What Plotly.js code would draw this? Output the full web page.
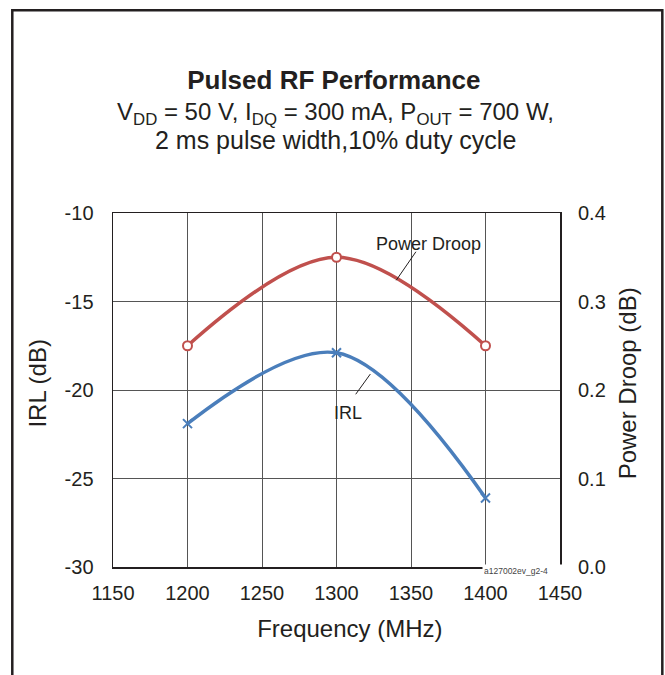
<!DOCTYPE html>
<html>
<head>
<meta charset="utf-8">
<script src="https://cdn.plot.ly/plotly-3.0.1.min.js"></script>
<style>
  html, body { margin: 0; padding: 0; background: #fff; }
  #chart { width: 665px; height: 675px; }
</style>
</head>
<body>
<div id="chart"></div>
<script>
// ---- data ----
const frequency = [1200, 1300, 1400];           // MHz
const irl = [-21.9, -17.9, -26.1];              // dB (left axis)
const powerDroop = [0.25, 0.35, 0.25];          // dB (right axis)

const xTicks = [1150, 1200, 1250, 1300, 1350, 1400, 1450];
const yTicks = [-30, -25, -20, -15, -10];
const y2Ticks = [0.0, 0.1, 0.2, 0.3, 0.4];

const titleText = "Pulsed RF Performance";
const subtitle1 = "V<sub>DD</sub> = 50 V, I<sub>DQ</sub> = 300 mA, P<sub>OUT</sub> = 700 W,";
const subtitle2 = "2 ms pulse width,10% duty cycle";
const xTitle = "Frequency (MHz)";
const yTitle = "IRL (dB)";
const y2Title = "Power Droop (dB)";
const watermark = "a127002ev_g2-4";

const FONT = "Liberation Sans, Arial, sans-serif";
const INK = "#231f20";
const RED = "#c0504d";
const BLUE = "#4a7ebb";
const PAD2 = "&nbsp;&nbsp;";
const PAD4 = "&nbsp;&nbsp;&nbsp;&nbsp;";

const traces = [
  {
    x: frequency, y: powerDroop, yaxis: "y2", name: "Power Droop",
    type: "scatter", mode: "lines+markers",
    line: { color: RED, width: 3.5, shape: "spline", smoothing: 1 },
    marker: { symbol: "circle", size: 9, color: "#ffffff", line: { color: RED, width: 2 } }
  },
  {
    x: frequency, y: irl, yaxis: "y", name: "IRL",
    type: "scatter", mode: "lines+markers",
    line: { color: BLUE, width: 3.5, shape: "spline", smoothing: 1 },
    marker: { symbol: "x-thin-open", size: 9, color: BLUE, line: { color: BLUE, width: 2 } }
  }
];

const layout = {
  width: 665, height: 675,
  margin: { l: 113, r: 105, t: 213, b: 108 },
  paper_bgcolor: "#ffffff", plot_bgcolor: "#ffffff",
  showlegend: false,
  font: { family: FONT, color: INK },
  title: {
    text: "<b>" + titleText + "</b>",
    font: { family: FONT, size: 26, color: INK },
    x: 0.502, xanchor: "center",
    y: 0.881, yanchor: "middle", yref: "container"
  },
  xaxis: {
    range: [1150, 1450], tickvals: xTicks, ticktext: xTicks.map(String),
    showgrid: true, gridcolor: "#555555", gridwidth: 1,
    showline: true, mirror: true, linecolor: INK, linewidth: 1.5,
    zeroline: false, ticks: "", ticklabelstandoff: 7,
    tickfont: { family: FONT, size: 20, color: INK },
    title: { text: PAD4 + xTitle, font: { family: FONT, size: 24, color: INK }, standoff: 17 }
  },
  yaxis: {
    range: [-30, -10], tickvals: yTicks, ticktext: yTicks.map(String),
    showgrid: true, gridcolor: "#555555", gridwidth: 1,
    showline: true, mirror: true, linecolor: INK, linewidth: 1.5,
    zeroline: false, ticks: "", ticklabelstandoff: 14,
    tickfont: { family: FONT, size: 20, color: INK },
    title: { text: PAD2 + yTitle, font: { family: FONT, size: 24, color: INK }, standoff: 11 }
  },
  yaxis2: {
    overlaying: "y", side: "right",
    range: [0, 0.4], tickvals: y2Ticks, ticktext: y2Ticks.map(v => v.toFixed(1)),
    showgrid: false, showline: false, zeroline: false, ticks: "",
    ticklabelstandoff: 17,
    tickfont: { family: FONT, size: 20, color: INK },
    title: { text: PAD2 + y2Title, font: { family: FONT, size: 24, color: INK }, standoff: 14 }
  },
  annotations: [
    { text: subtitle1, xref: "paper", yref: "paper", x: 0.497, y: 1.281,
      xanchor: "center", yanchor: "middle", showarrow: false,
      font: { family: FONT, size: 24, color: INK } },
    { text: subtitle2, xref: "paper", yref: "paper", x: 0.497, y: 1.207,
      xanchor: "center", yanchor: "middle", showarrow: false,
      font: { family: FONT, size: 25, color: INK } },
    // Power Droop label + leader
    { text: "Power Droop", xref: "x", yref: "y2", x: 1361.6, y: 0.3647,
      xanchor: "center", yanchor: "middle", showarrow: false,
      font: { family: FONT, size: 18, color: INK } },
    { text: "", xref: "x", yref: "y2", x: 1340.1, y: 0.324,
      showarrow: true, arrowhead: 0, arrowwidth: 1, arrowcolor: INK,
      ax: 20.7, ay: -30, standoff: 0, startstandoff: 0 },
    // IRL label + leader
    { text: "IRL", xref: "x", yref: "y", x: 1307.9, y: -21.3,
      xanchor: "center", yanchor: "middle", showarrow: false,
      font: { family: FONT, size: 18, color: INK } },
    { text: "", xref: "x", yref: "y", x: 1322.7, y: -19.1,
      showarrow: true, arrowhead: 0, arrowwidth: 1, arrowcolor: INK,
      ax: -15.7, ay: 21.7, standoff: 0, startstandoff: 0 },
    // drawing number
    { text: watermark, xref: "x", yref: "paper", x: 1400, y: 0,
      xanchor: "left", yanchor: "middle", xshift: -4, yshift: -4,
      width: 77, align: "left", bgcolor: "#ffffff", borderpad: 1,
      showarrow: false, font: { family: FONT, size: 8.5, color: "#444444" } }
  ],
  shapes: [
    { type: "rect", xref: "paper", yref: "paper", layer: "above",
      x0: -0.2253, x1: 1.2289, y0: -0.35, y1: 1.573,
      line: { color: INK, width: 2.5 }, fillcolor: "rgba(0,0,0,0)" }
  ]
};

Plotly.newPlot("chart", traces, layout, { displayModeBar: false, staticPlot: true });
</script>
</body>
</html>
